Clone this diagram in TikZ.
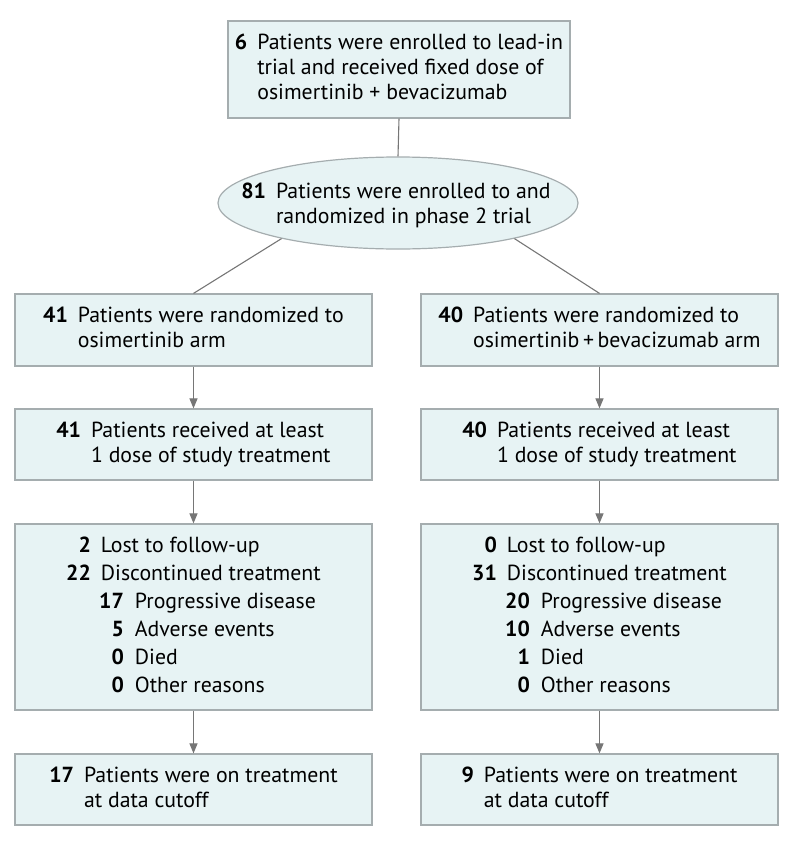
\documentclass[tikz,border=0pt]{standalone}
\usepackage{fontspec}
\setmainfont{PT Sans}
\usetikzlibrary{arrows.meta,shapes.geometric}
\definecolor{boxfill}{RGB}{231,243,244}
\definecolor{boxline}{RGB}{165,173,175}
\definecolor{connc}{RGB}{118,118,118}
\newcommand{\sub}[2]{\makebox[23pt][r]{\textbf{#1}}\hspace{11pt}#2}
\newenvironment{flowtab}{\begin{tabular}{@{}r@{\hspace{10pt}}l@{}}}{\end{tabular}}
\tikzset{
  box/.style={draw=boxline, fill=boxfill, line width=1.2pt, minimum width=357pt, inner sep=0pt, align=left, font=\fontsize{21.8}{25}\selectfont},
  listbox/.style={box, font=\fontsize{21.8}{28}\selectfont},
  plain/.style={inner sep=0pt, align=left, font=\fontsize{21.8}{25}\selectfont},
  conn/.style={draw=connc, line width=1.1pt},
  arr/.style={conn, -{Triangle[length=10pt,width=8pt]}},
}
\begin{document}
\begin{tikzpicture}[x=1pt,y=-1pt]
\useasboundingbox (0,0) rectangle (794,846);

\node[box, minimum width=342pt, minimum height=97pt] (top) at (399,69.5)
  {\begin{flowtab}\textbf{6} & Patients were enrolled to lead-in\\ & trial and received fixed dose of\\ & osimertinib + bevacizumab\end{flowtab}};

\node[draw=boxline, fill=boxfill, line width=1.2pt, ellipse, inner sep=0pt, minimum width=360pt, minimum height=92pt] (ell) at (398,203) {};
\node[plain] (ellt) at (396,206)
  {\begin{flowtab}\textbf{81} & Patients were enrolled to and\\ & randomized in phase 2 trial\end{flowtab}};

\node[box, minimum height=72pt] (l1) at (193.5,330)
  {\begin{flowtab}\textbf{41} & Patients were randomized to\\ & osimertinib arm\end{flowtab}};
\node[box, minimum height=72pt] (r1) at (599.5,330)
  {\begin{flowtab}\textbf{40} & Patients were randomized to\\ & osimertinib\,+\,bevacizumab arm\end{flowtab}};

\node[box, minimum height=71pt] (l2) at (193.5,444.5)
  {\begin{flowtab}\textbf{41} & Patients received at least\\ & 1 dose of study treatment\end{flowtab}};
\node[box, minimum height=71pt] (r2) at (599.5,444.5)
  {\begin{flowtab}\textbf{40} & Patients received at least\\ & 1 dose of study treatment\end{flowtab}};

\node[listbox, minimum height=186pt] (l3) at (193.5,617)
  {\begin{flowtab}\textbf{2} & Lost to follow-up\\ \textbf{22} & Discontinued treatment\\
   & \sub{17}{Progressive disease}\\ & \sub{5}{Adverse events}\\ & \sub{0}{Died}\\ & \sub{0}{Other reasons}\end{flowtab}};
\node[listbox, minimum height=186pt] (r3) at (599.5,617)
  {\begin{flowtab}\textbf{0} & Lost to follow-up\\ \textbf{31} & Discontinued treatment\\
   & \sub{20}{Progressive disease}\\ & \sub{10}{Adverse events}\\ & \sub{1}{Died}\\ & \sub{0}{Other reasons}\end{flowtab}};

\node[box, minimum height=71pt] (l4) at (193.5,789.5)
  {\begin{flowtab}\textbf{17} & Patients were on treatment\\ & at data cutoff\end{flowtab}};
\node[box, minimum height=71pt] (r4) at (599.5,789.5)
  {\begin{flowtab}\textbf{9} & Patients were on treatment\\ & at data cutoff\end{flowtab}};

\draw[conn] (top.south) -- (ell.north);
\draw[conn] (ell.197) -- (l1.north);
\draw[conn] (ell.-17) -- (r1.north);
\draw[arr] (l1.south) -- (l2.north);
\draw[arr] (l2.south) -- (l3.north);
\draw[arr] (l3.south) -- (l4.north);
\draw[arr] (r1.south) -- (r2.north);
\draw[arr] (r2.south) -- (r3.north);
\draw[arr] (r3.south) -- (r4.north);
\end{tikzpicture}
\end{document}
